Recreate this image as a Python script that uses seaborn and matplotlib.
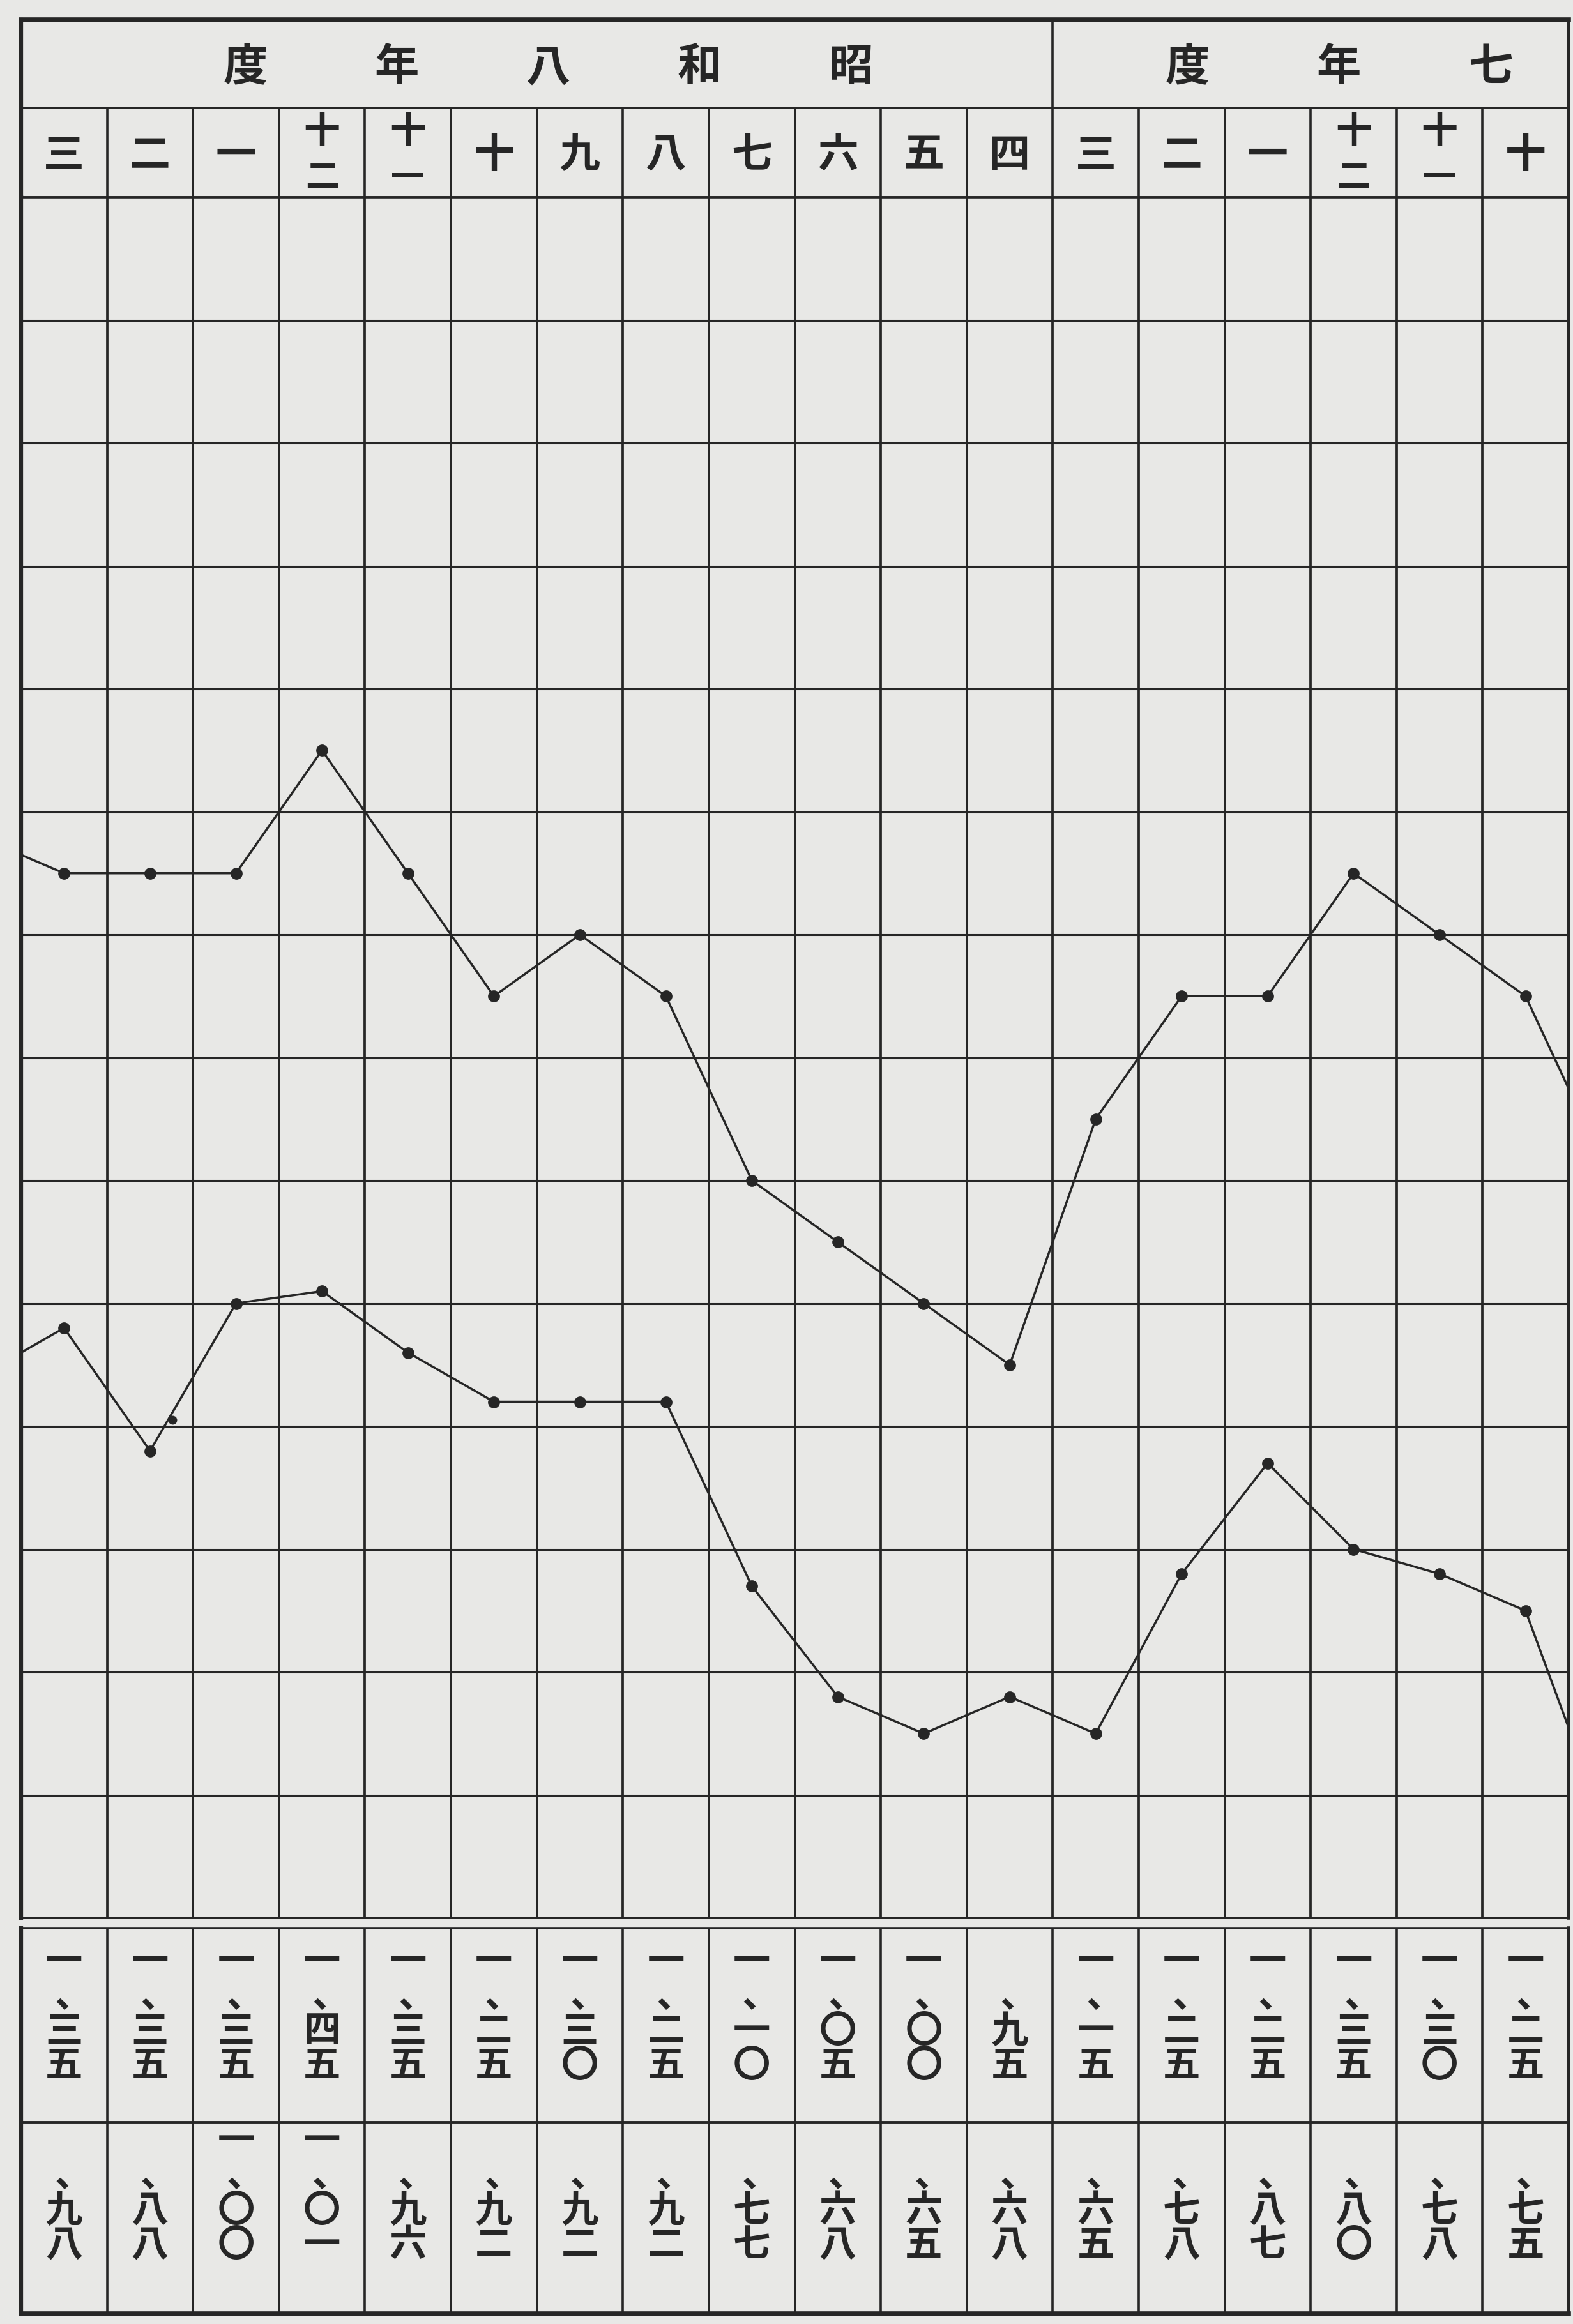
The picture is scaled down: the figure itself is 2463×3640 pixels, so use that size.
import numpy as np
import pandas as pd
import matplotlib
matplotlib.use("Agg")
import matplotlib.pyplot as plt
import seaborn as sns

# ---------------- data ----------------
# month columns, written right-to-left (Showa 8 fiscal year, then Showa 7)
months = ['三', '二', '一', '十二', '十一', '十', '九', '八', '七', '六', '五', '四',
          '三', '二', '一', '十二', '十一', '十']
# upper series (yen)
upper = [1.35, 1.35, 1.35, 1.45, 1.35, 1.25, 1.30, 1.25, 1.10, 1.05, 1.00, 0.95,
         1.15, 1.25, 1.25, 1.35, 1.30, 1.25]
# lower series (yen)
lower = [0.98, 0.88, 1.00, 1.01, 0.96, 0.92, 0.92, 0.92, 0.77, 0.68, 0.65, 0.68,
         0.65, 0.78, 0.87, 0.80, 0.78, 0.75]
# neighbouring months just outside the cropped page (left, right)
upper_edges = [1.38, 1.10]
lower_edges = [0.94, 0.56]
# stray printed dot
stray_x = [1.26]
stray_y = [0.905]
# fiscal-year titles (read right to left)
title_s8 = '昭和八年度'
title_s7 = '昭和七年度'

# ---------------- style ----------------
sns.set_style("white")
plt.rcParams['font.family'] = ['Noto Sans CJK JP', 'DejaVu Sans']
paper = '#e8e8e6'
ink = '#262626'

W, H = 2463, 3641
fig = plt.figure(figsize=(W / 100, H / 100), dpi=100, facecolor=paper)

x0, x1 = 33, 2456
def rect(top, bottom):
    return [x0 / W, 1 - bottom / H, (x1 - x0) / W, (bottom - top) / H]

n = len(months)
xlim = (-0.5, n - 0.5)
bounds = np.arange(0.5, n - 0.5, 1.0)

# ---------------- header ----------------
hy_top, hy_mid, hy_bot = 32, 170, 310
axh = fig.add_axes(rect(hy_top, hy_bot))
axh.set_facecolor(paper)
axh.set_xlim(*xlim)
axh.set_ylim(hy_bot, hy_top)
axh.set_xticks([]); axh.set_yticks([])
for s, lw in zip(['top', 'bottom', 'left', 'right'], [5.5, 2.6, 4.5, 4.0]):
    axh.spines[s].set_linewidth(lw)
    axh.spines[s].set_color(ink)
axh.axhline(hy_mid, color=ink, lw=2.8)
axh.vlines(bounds, hy_mid, hy_bot, color=ink, lw=2.6)
axh.vlines([11.5], hy_top, hy_mid, color=ink, lw=2.6)

spacing = 1.76
for title, center in [(title_s8, 5.63), (title_s7, 16.59)]:
    for k, ch in enumerate(title):
        xc = center + (2 - k) * spacing
        if xlim[0] < xc < xlim[1] - 0.3:
            axh.text(xc, 106, ch, ha='center', va='center',
                     fontsize=50, fontweight='bold', color=ink)

for i, m in enumerate(months):
    if len(m) == 1:
        axh.text(i, 243, m, ha='center', va='center', fontsize=46,
                 fontweight='bold', color=ink)
    else:
        axh.text(i, 207, m[0], ha='center', va='center', fontsize=41,
                 fontweight='bold', color=ink)
        axh.text(i, 279, m[1], ha='center', va='center', fontsize=38,
                 fontweight='bold', color=ink)

# ---------------- plot ----------------
axp = fig.add_axes(rect(hy_bot, 3005))
axp.set_facecolor(paper)
idx = np.arange(-1, n + 1)
df = pd.DataFrame({
    'idx': idx,
    'upper': [upper_edges[0]] + upper + [upper_edges[1]],
    'lower': [lower_edges[0]] + lower + [lower_edges[1]],
})
long = df.melt(id_vars='idx', var_name='series', value_name='price')
sns.lineplot(data=long, x='idx', y='price', hue='series', palette=[ink, ink],
             marker='o', markersize=13.5, markeredgewidth=0, linewidth=2.5,
             legend=False, ax=axp, sort=True)
sns.scatterplot(x=stray_x, y=stray_y, color=ink, s=100, linewidth=0, ax=axp)
axp.set_xlim(*xlim)
axp.set_ylim(0.5, 1.9)
axp.set_xticks(bounds)
axp.set_yticks(np.round(np.arange(0.6, 1.85, 0.1), 2))
axp.tick_params(length=0, labelbottom=False, labelleft=False)
axp.xaxis.grid(True, color=ink, lw=2.7)
axp.yaxis.grid(True, color=ink, lw=2.2)
axp.set_xlabel(''); axp.set_ylabel('')
for s, lw in zip(['top', 'bottom', 'left', 'right'], [2.6, 2.6, 4.5, 4.0]):
    axp.spines[s].set_linewidth(lw)
    axp.spines[s].set_color(ink)

# ---------------- table ----------------
ty_top, ty_mid, ty_bot = 3021, 3325, 3625
axt = fig.add_axes(rect(ty_top, ty_bot))
axt.set_facecolor(paper)
axt.set_xlim(*xlim)
axt.set_ylim(ty_bot, ty_top)
axt.set_xticks([]); axt.set_yticks([])
for s, lw in zip(['top', 'bottom', 'left', 'right'], [2.6, 5.5, 4.5, 4.0]):
    axt.spines[s].set_linewidth(lw)
    axt.spines[s].set_color(ink)
axt.axhline(ty_mid, color=ink, lw=2.8)
axt.vlines(bounds, ty_top, ty_bot, color=ink, lw=2.6)

digits = '〇一二三四五六七八九'
def kanji_price(v):
    total = int(round(v * 100))
    yen, sen = divmod(total, 100)
    lines = ([digits[yen]] if yen else []) + ['\u2002、', digits[sen // 10], digits[sen % 10]]
    return '\n'.join(lines)

for i in range(n):
    axt.text(i, 3266, kanji_price(upper[i]), ha='center', va='bottom',
             multialignment='center', linespacing=0.88, fontsize=42,
             fontweight='bold', color=ink)
    axt.text(i, 3547, kanji_price(lower[i]), ha='center', va='bottom',
             multialignment='center', linespacing=0.88, fontsize=42,
             fontweight='bold', color=ink)

fig.savefig('out.png', dpi=100, facecolor=paper)
